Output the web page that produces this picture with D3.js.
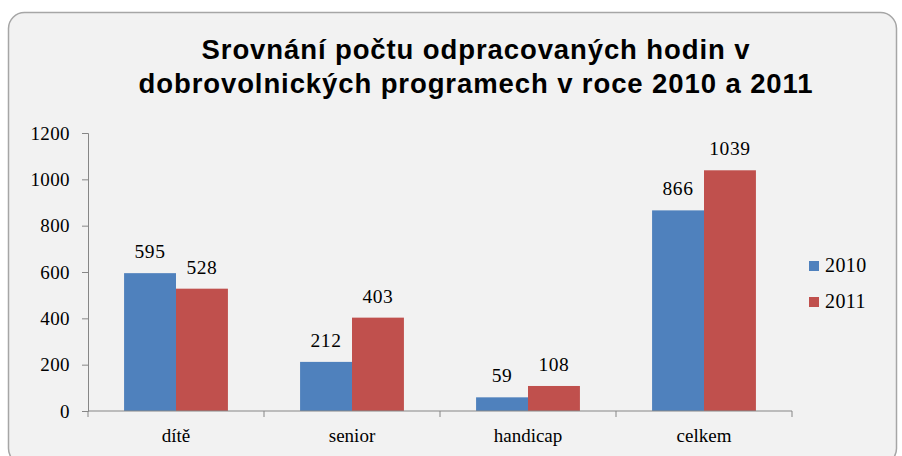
<!DOCTYPE html>
<html><head><meta charset="utf-8">
<script src="https://cdn.jsdelivr.net/npm/d3@7"></script>
<style>html,body{margin:0;padding:0;background:#fff;}svg{display:block;}
.serif{font-family:'Liberation Serif','Times New Roman','DejaVu Serif',serif;}
</style>
</head><body>
<script>
const categories = ["dítě", "senior", "handicap", "celkem"];
const seriesNames = ["2010", "2011"];
const values2010 = [595, 212, 59, 866];
const values2011 = [528, 403, 108, 1039];
const yTicks = [0, 200, 400, 600, 800, 1000, 1200];
const colors = ["#4f81bd", "#c0504d"];
const titleLines = ["Srovnání počtu odpracovaných hodin v", "dobrovolnických programech v roce 2010 a 2011"];

(function () {
const W = 902, H = 456;
const serif = "'Liberation Serif','Times New Roman','DejaVu Serif',serif";
const svg = d3.select("body").append("svg").attr("width", W).attr("height", H);
svg.append("rect").attr("x", 8.5).attr("y", 12.5).attr("width", 888).attr("height", 452)
  .attr("rx", 16).attr("fill", "#f2f2f2").attr("stroke", "#a6a6a6").attr("stroke-width", 1.5);

svg.selectAll("text.title").data(titleLines).join("text")
  .attr("x", 476).attr("y", (d, i) => 59 + i * 34)
  .attr("text-anchor", "middle").style("font-family", "'Liberation Sans', Arial, sans-serif")
  .style("font-weight", "bold").style("font-size", "27.5px").style("letter-spacing", "0.9px")
  .attr("fill", "#000").text(d => d);

const pLeft = 88, pRight = 792, pTop = 133, pBottom = 411;
const x0 = d3.scaleBand().domain(categories).range([pLeft, pRight]).paddingInner(0.41).paddingOuter(0.205);
const x1 = d3.scaleBand().domain(seriesNames).range([0, x0.bandwidth()]);
const y = d3.scaleLinear().domain([0, 1200]).range([pBottom, pTop]);

const data = categories.map((c, i) => ({cat: c, vals: [values2010[i], values2011[i]]}));
const g = svg.append("g");
const groups = g.selectAll("g.cat").data(data).join("g").attr("transform", d => `translate(${x0(d.cat)},0)`);
groups.selectAll("rect").data(d => d.vals.map((v, j) => ({v, s: seriesNames[j], j}))).join("rect")
  .attr("x", d => x1(d.s)).attr("width", x1.bandwidth())
  .attr("y", d => y(d.v)).attr("height", d => pBottom - y(d.v)).attr("fill", d => colors[d.j]);
groups.selectAll("text").data(d => d.vals.map((v, j) => ({v, s: seriesNames[j], j}))).join("text")
  .attr("x", d => x1(d.s) + x1.bandwidth() / 2).attr("y", d => y(d.v) - 15)
  .attr("text-anchor", "middle").style("font-family", serif)
  .style("font-size", "19.5px").style("letter-spacing", "0.6px").attr("fill", "#000").text(d => d.v);

const yAxis = svg.append("g").attr("transform", `translate(${pLeft},0)`)
  .call(d3.axisLeft(y).tickValues(yTicks).tickFormat(d3.format("d")).tickSize(6).tickPadding(12));
yAxis.select(".domain").attr("stroke", "#868686");
yAxis.selectAll(".tick line").attr("stroke", "#868686");
yAxis.selectAll(".tick text").style("font-family", serif)
  .style("font-size", "19px").style("letter-spacing", "0.4px").attr("fill", "#000");

const xAxis = svg.append("g").attr("transform", `translate(0,${pBottom})`);
xAxis.append("line").attr("x1", pLeft).attr("x2", pRight).attr("stroke", "#868686");
const step = (pRight - pLeft) / categories.length;
xAxis.selectAll("line.t").data(d3.range(categories.length + 1)).join("line")
  .attr("x1", i => pLeft + i * step).attr("x2", i => pLeft + i * step).attr("y1", 0).attr("y2", 6).attr("stroke", "#868686");
xAxis.selectAll("text").data(categories).join("text")
  .attr("x", d => x0(d) + x0.bandwidth() / 2).attr("y", 31).attr("text-anchor", "middle")
  .style("font-family", serif).style("font-size", "19px").attr("fill", "#000").text(d => d);

const leg = svg.selectAll("g.leg").data(seriesNames).join("g").attr("transform", (d, i) => `translate(809,${261 + i * 36})`);
leg.append("rect").attr("width", 10).attr("height", 10).attr("fill", (d, i) => colors[i]);
leg.append("text").attr("x", 16).attr("y", 11).style("font-family", serif)
  .style("font-size", "20px").style("letter-spacing", "0.4px").attr("fill", "#000").text(d => d);
})();
</script>
</body></html>
